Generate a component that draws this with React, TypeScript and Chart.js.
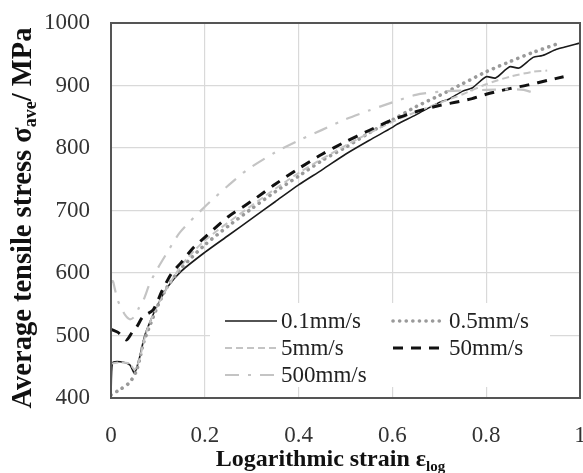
import React, { useEffect, useRef } from "react";
import { Chart, registerables } from "chart.js";

Chart.register(...registerables);

// ---- data ----
const xTicks = [0, 0.2, 0.4, 0.6, 0.8, 1];
const xTickLabels = ["0", "0.2", "0.4", "0.6", "0.8", "1"];
const yTicks = [400, 500, 600, 700, 800, 900, 1000];
const yTickLabels = ["400", "500", "600", "700", "800", "900", "1000"];

const seriesNames = ["0.1mm/s", "0.5mm/s", "5mm/s", "50mm/s", "500mm/s"];

const strain01 = [0, 0.003, 0.02, 0.04, 0.05, 0.06, 0.072, 0.085, 0.1, 0.12, 0.15, 0.2, 0.25, 0.3, 0.35, 0.4, 0.45, 0.5, 0.55, 0.6, 0.61, 0.65, 0.7, 0.72, 0.75, 0.77, 0.8, 0.82, 0.85, 0.87, 0.9, 0.92, 0.95, 0.97, 0.99, 1.0];
const stress01 = [400, 456, 458, 453, 440, 462, 500, 525, 550, 577, 603, 633, 660, 687, 714, 741, 765, 790, 812, 833, 838, 853, 873, 878, 891, 896, 914, 912, 930, 928, 945, 948, 958, 962, 966, 968];

const strain05 = [0, 0.02, 0.04, 0.055, 0.07, 0.085, 0.1, 0.12, 0.15, 0.2, 0.25, 0.3, 0.35, 0.4, 0.45, 0.5, 0.55, 0.6, 0.65, 0.7, 0.75, 0.8, 0.85, 0.9, 0.953];
const stress05 = [405, 414, 425, 445, 490, 520, 548, 578, 608, 645, 675, 703, 730, 755, 780, 801, 824, 845, 866, 884, 903, 922, 938, 953, 967];

const strain5 = [0, 0.02, 0.04, 0.05, 0.06, 0.075, 0.1, 0.15, 0.2, 0.3, 0.4, 0.5, 0.6, 0.7, 0.75, 0.8, 0.85, 0.9, 0.93];
const stress5 = [455, 457, 455, 445, 460, 505, 550, 612, 652, 708, 760, 804, 842, 872, 886, 902, 914, 922, 924];

const strain50 = [0, 0.015, 0.033, 0.045, 0.055, 0.068, 0.09, 0.108, 0.128, 0.15, 0.175, 0.2, 0.25, 0.3, 0.35, 0.4, 0.45, 0.5, 0.55, 0.6, 0.65, 0.7, 0.74, 0.77, 0.8, 0.85, 0.89, 0.93, 0.965];
const stress50 = [510, 505, 493, 505, 514, 530, 541, 570, 598, 617, 640, 657, 690, 715, 742, 767, 790, 810, 828, 845, 858, 868, 874, 879, 886, 895, 901, 908, 914];

const strain500 = [0, 0.004, 0.008, 0.015, 0.022, 0.03, 0.04, 0.05, 0.06, 0.07, 0.083, 0.1, 0.12, 0.147, 0.2, 0.25, 0.29, 0.35, 0.4, 0.45, 0.5, 0.55, 0.6, 0.65, 0.7, 0.75, 0.8, 0.85, 0.88, 0.91];
const stress500 = [585, 587, 575, 555, 544, 533, 526, 530, 545, 558, 584, 608, 633, 665, 706, 740, 765, 793, 812, 829, 846, 860, 873, 885, 890, 892, 893, 894, 893, 886];

const seriesStrain = [strain01, strain05, strain5, strain50, strain500];
const seriesStress = [stress01, stress05, stress5, stress50, stress500];

// ---- styles ----
const styles = [
  { color: "#1a1a1a", width: 1.6, dash: [] as number[], cap: "butt" },
  { color: "#9a9a9a", width: 3.6, dash: [0.1, 6.5], cap: "round" },
  { color: "#c4c4c4", width: 2, dash: [7, 4], cap: "butt" },
  { color: "#111111", width: 3, dash: [10, 8], cap: "butt" },
  { color: "#c4c4c4", width: 2.2, dash: [14, 9, 3, 9], cap: "butt" },
];

const SERIF = '"Liberation Serif", "Times New Roman", serif';

type Part = { t: string; sub?: boolean };

function measureParts(ctx: CanvasRenderingContext2D, parts: Part[], size: number, subSize: number) {
  let w = 0;
  for (const p of parts) {
    ctx.font = `bold ${p.sub ? subSize : size}px ${SERIF}`;
    w += ctx.measureText(p.t).width;
  }
  return w;
}

function drawParts(ctx: CanvasRenderingContext2D, parts: Part[], x: number, y: number, size: number, subSize: number, subOffset: number) {
  let cx = x;
  for (const p of parts) {
    ctx.font = `bold ${p.sub ? subSize : size}px ${SERIF}`;
    ctx.fillText(p.t, cx, p.sub ? y + subOffset : y);
    cx += ctx.measureText(p.t).width;
  }
}

const xTitle: Part[] = [{ t: "Logarithmic strain ε" }, { t: "log", sub: true }];
const yTitle: Part[] = [{ t: "Average tensile stress σ" }, { t: "ave", sub: true }, { t: "/ MPa" }];

const decorPlugin = {
  id: "decor",
  afterDatasetsDraw(chart: any) {
    const ctx: CanvasRenderingContext2D = chart.ctx;
    const ca = chart.chartArea;
    ctx.save();
    // plot frame
    ctx.strokeStyle = "#555555";
    ctx.lineWidth = 2;
    ctx.strokeRect(ca.left, ca.top, ca.right - ca.left, ca.bottom - ca.top);

    // legend box (white background, no border)
    ctx.fillStyle = "#ffffff";
    ctx.fillRect(210, 303, 340, 84);
    const rows = [321, 348, 375];
    const entries = [
      { i: 0, x: 225, row: 0 },
      { i: 1, x: 393, row: 0 },
      { i: 2, x: 225, row: 1 },
      { i: 3, x: 393, row: 1 },
      { i: 4, x: 225, row: 2 },
    ];
    ctx.textBaseline = "middle";
    ctx.textAlign = "left";
    for (const e of entries) {
      const st = styles[e.i];
      const y = rows[e.row];
      ctx.beginPath();
      ctx.strokeStyle = st.color;
      ctx.lineWidth = st.width;
      ctx.setLineDash(st.dash);
      ctx.lineCap = st.cap as CanvasLineCap;
      ctx.moveTo(e.x, y);
      ctx.lineTo(e.x + 52, y);
      ctx.stroke();
      ctx.setLineDash([]);
      ctx.lineCap = "butt";
      ctx.fillStyle = "#222222";
      ctx.font = `23px ${SERIF}`;
      ctx.fillText(seriesNames[e.i], e.x + 56, y + 1);
    }

    // axis titles
    ctx.fillStyle = "#111111";
    ctx.textBaseline = "alphabetic";
    const xs = 24, xsub = 15;
    const wx = measureParts(ctx, xTitle, xs, xsub);
    const xc = (ca.left + ca.right) / 2 - 15;
    drawParts(ctx, xTitle, xc - wx / 2, 466, xs, xsub, 5);

    const ys = 28.5, ysub = 18;
    const wy = measureParts(ctx, yTitle, ys, ysub);
    ctx.translate(31, 218);
    ctx.rotate(-Math.PI / 2);
    drawParts(ctx, yTitle, -wy / 2, 0, ys, ysub, 5);
    ctx.restore();
  },
};

export default function App() {
  const ref = useRef<HTMLCanvasElement | null>(null);

  useEffect(() => {
    document.body.style.margin = "0";
    const canvas = ref.current;
    if (!canvas) return;
    const datasets = seriesNames.map((name, i) => ({
      label: name,
      data: seriesStrain[i].map((x, k) => ({ x, y: seriesStress[i][k] })),
      borderColor: styles[i].color,
      borderWidth: styles[i].width,
      borderDash: styles[i].dash,
      borderCapStyle: styles[i].cap,
      pointRadius: 0,
      fill: false,
      tension: 0.25,
      order: 5 - i,
    }));

    const chart = new Chart(canvas, {
      type: "line",
      data: { datasets },
      plugins: [decorPlugin],
      options: {
        animation: false,
        responsive: false,
        devicePixelRatio: 1,
        layout: { padding: { left: 0, right: 3, top: 23, bottom: 0 } },
        plugins: { legend: { display: false }, tooltip: { enabled: false }, title: { display: false } },
        scales: {
          x: {
            type: "linear",
            min: 0,
            max: 1,
            afterBuildTicks: (scale: any) => {
              scale.ticks = xTicks.map((v) => ({ value: v }));
            },
            afterFit: (scale: any) => {
              scale.height = 75;
              scale.paddingLeft = 0;
              scale.paddingRight = 0;
            },
            ticks: {
              autoSkip: false,
              maxRotation: 0,
              padding: 24,
              color: "#333333",
              font: { family: SERIF, size: 23 },
              callback: (v: any) => {
                const idx = xTicks.indexOf(Number(v));
                return idx >= 0 ? xTickLabels[idx] : "";
              },
            },
            grid: { color: "#d9d9d9", lineWidth: 1.2, drawTicks: false },
            border: { display: false },
          },
          y: {
            type: "linear",
            min: 400,
            max: 1000,
            afterBuildTicks: (scale: any) => {
              scale.ticks = yTicks.map((v) => ({ value: v }));
            },
            afterFit: (scale: any) => {
              scale.width = 111;
              scale.paddingTop = 0;
              scale.paddingBottom = 0;
            },
            ticks: {
              padding: 21,
              color: "#333333",
              font: { family: SERIF, size: 23 },
              callback: (v: any) => {
                const idx = yTicks.indexOf(Number(v));
                return idx >= 0 ? yTickLabels[idx] : "";
              },
            },
            grid: { color: "#d9d9d9", lineWidth: 1.2, drawTicks: false },
            border: { display: false },
          },
        },
      },
    });
    return () => chart.destroy();
  }, []);

  return (
    <div style={{ width: 583, height: 473 }}>
      <canvas ref={ref} width={583} height={473} style={{ display: "block" }} />
    </div>
  );
}
